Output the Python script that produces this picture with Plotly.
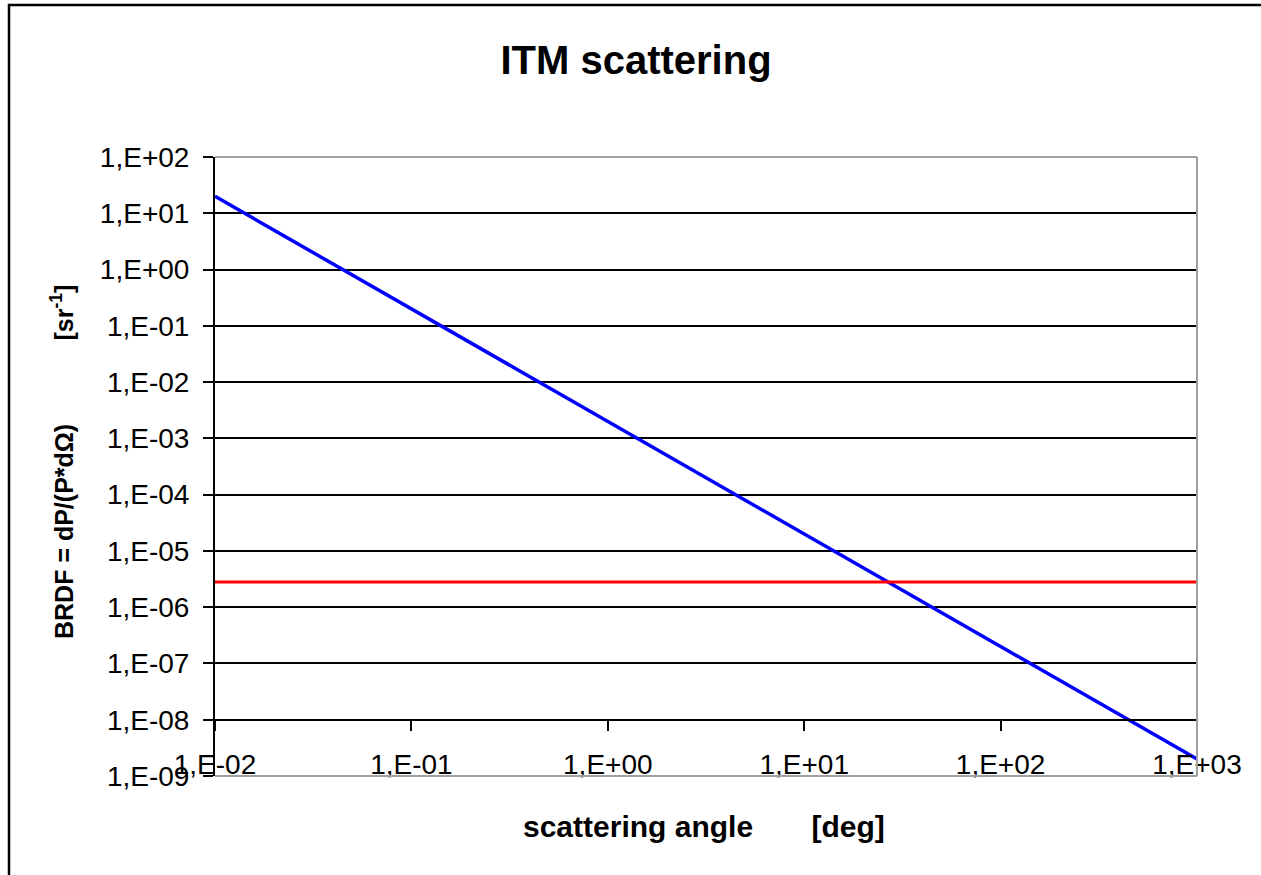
import plotly.graph_objects as go

# ---- data ----
angle_deg = [0.01, 0.1, 1, 10, 100, 1000]
brdf_itm = [20, 0.2, 0.002, 2e-5, 2e-7, 2e-9]
limit_x = [0.01, 1000]
limit_y = [2.8e-6, 2.8e-6]

x_tickvals = [0.01, 0.1, 1, 10, 100, 1000]
x_ticktext = ["1,E-02", "1,E-01", "1,E+00", "1,E+01", "1,E+02", "1,E+03"]
y_tickvals = [1e-9, 1e-8, 1e-7, 1e-6, 1e-5, 1e-4, 1e-3, 1e-2, 1e-1, 1e0, 1e1, 1e2]
y_ticktext = ["1,E-09", "1,E-08", "1,E-07", "1,E-06", "1,E-05", "1,E-04",
              "1,E-03", "1,E-02", "1,E-01", "1,E+00", "1,E+01", "1,E+02"]

FONT = "Liberation Sans, Arial, sans-serif"
W, H = 1261, 875
L, R, T, B = 215, 1197, 157, 776
pw, ph = R - L, B - T

def px(xp):
    return (xp - L) / pw

def py(yp):
    return (B - yp) / ph

fig = go.Figure()
fig.add_trace(go.Scatter(x=angle_deg, y=brdf_itm, mode="lines",
                         line=dict(color="#0000FF", width=3.5), showlegend=False))
fig.add_trace(go.Scatter(x=limit_x, y=limit_y, mode="lines",
                         line=dict(color="#FF0000", width=3), showlegend=False))

shapes = []
grey = "#A0A0A0"
# plot-area border (top, right, bottom)
shapes.append(dict(type="line", xref="paper", yref="paper", x0=0, x1=1, y0=1, y1=1,
                   line=dict(color=grey, width=2), layer="above"))
shapes.append(dict(type="line", xref="paper", yref="paper", x0=1, x1=1, y0=0, y1=1,
                   line=dict(color=grey, width=2), layer="above"))
shapes.append(dict(type="line", xref="paper", yref="paper", x0=0, x1=1, y0=0, y1=0,
                   line=dict(color=grey, width=2), layer="above"))
# outer chart frame
shapes.append(dict(type="rect", xref="paper", yref="paper",
                   x0=px(9), x1=px(1275), y0=py(5), y1=py(890),
                   line=dict(color="black", width=2.5), layer="above"))

sp = "\u00a0"
annotations = [
    dict(text="scattering angle" + sp * 7 + "[deg]",
         xref="paper", yref="paper", x=px(704), y=py(826), xanchor="center", yanchor="middle",
         showarrow=False, font=dict(family=FONT, size=30, color="black", weight="bold")),
    dict(text="BRDF = dP/(P*dΩ)" + sp * 12 + "[sr<sup>-1</sup>]",
         xref="paper", yref="paper", x=px(62), y=py(462), xanchor="center", yanchor="middle",
         textangle=-90, showarrow=False,
         font=dict(family=FONT, size=25, color="black", weight="bold")),
]

fig.update_layout(
    width=W, height=H,
    margin=dict(l=L, r=W - R, t=T, b=H - B, pad=0),
    paper_bgcolor="white", plot_bgcolor="white",
    title=dict(text="<b>ITM scattering</b>", x=636 / W, y=1 - 60 / H,
               xanchor="center", yanchor="middle", xref="container",
               font=dict(family=FONT, size=40, color="black")),
    shapes=shapes, annotations=annotations,
    xaxis=dict(type="log", range=[-2, 3], tickvals=x_tickvals, ticktext=x_ticktext,
               showgrid=False, zeroline=False, showline=True, linecolor="black", linewidth=2,
               ticks="outside", ticklen=10, tickwidth=2, tickcolor="black",
               anchor="free", position=1 / 11, ticklabelstandoff=10,
               tickfont=dict(family=FONT, size=28, color="black")),
    yaxis=dict(type="log", range=[-9, 2], tickvals=y_tickvals, ticktext=y_ticktext,
               showgrid=True, gridcolor="black", gridwidth=2, zeroline=False,
               showline=True, linecolor="black", linewidth=2,
               ticks="outside", ticklen=10, tickwidth=2, tickcolor="black",
               ticklabelstandoff=8,
               tickfont=dict(family=FONT, size=28, color="black")),
)

fig.write_html("out.html")
